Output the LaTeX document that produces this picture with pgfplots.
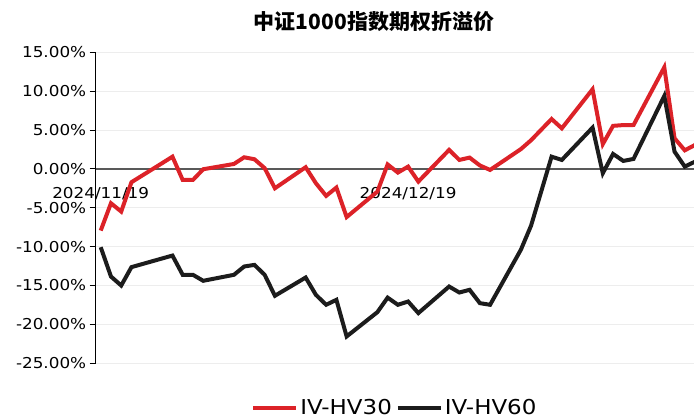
\documentclass[border=0pt]{standalone}
\usepackage{fontspec}
\setmainfont{DejaVu Sans}[FakeStretch=1.12]
\newfontfamily\cjk{Noto Sans CJK SC}
\usepackage{pgfplots}
\usepackage{pgfplotstable}
\pgfplotsset{compat=1.18}
\definecolor{redl}{HTML}{DC2228}
\definecolor{blackl}{HTML}{1C1C1C}

\pgfplotstableread{
d r b
0 -7.94 -10.08
1 -4.42 -13.86
2 -5.49 -15.02
3 -1.71 -12.65
6 0.75 -11.53
7 1.58 -11.16
8 -1.42 -13.64
9 -1.42 -13.64
10 -0.04 -14.41
13 0.64 -13.64
14 1.50 -12.57
15 1.25 -12.36
16 0.10 -13.64
17 -2.49 -16.34
20 0.22 -13.99
21 -1.84 -16.22
22 -3.47 -17.50
23 -2.40 -16.86
24 -6.20 -21.58
27 -2.92 -18.45
28 0.58 -16.58
29 -0.47 -17.50
30 0.30 -17.08
31 -1.63 -18.57
34 2.45 -15.15
35 1.16 -15.92
36 1.46 -15.57
37 0.45 -17.29
38 -0.13 -17.50
41 2.55 -10.42
42 3.70 -7.30
44 6.43 1.58
45 5.23 1.16
48 10.26 5.32
49 3.20 -0.55
50 5.55 1.93
51 5.65 1.03
52 5.66 1.29
55 13.09 9.40
56 3.95 2.23
57 2.40 0.30
58 3.09 0.94
}\data

\begin{document}
\begin{tikzpicture}
\useasboundingbox (0bp,0bp) rectangle (694bp,419bp);
\node[font=\cjk\bfseries\fontsize{21bp}{24bp}\selectfont] at (374bp,397bp) {中证1000指数期权折溢价};
\begin{axis}[
  at={(95.7bp,56bp)}, anchor=south west,
  scale only axis, width=598.3bp, height=310.5bp,
  xmin=-0.49, xmax=57.9, ymin=-25, ymax=15,
  axis x line*=middle, axis y line*=left,
  hide obscured x ticks=false, hide obscured y ticks=false,
  x axis line style={black!65, line width=1.5bp},
  y axis line style={black, line width=1.2bp},
  xtick={0,30}, xticklabels={2024/11/19,2024/12/19},
  x tick style={draw=none},
  x tick label style={font=\fontsize{15bp}{18bp}\selectfont, anchor=center, yshift=-19bp},
  ytick={-25,-20,-15,-10,-5,0,5,10,15},
  yticklabels={-25.00\%,-20.00\%,-15.00\%,-10.00\%,-5.00\%,0.00\%,5.00\%,10.00\%,15.00\%},
  y tick label style={font=\fontsize{15bp}{18bp}\selectfont},
  y tick style={black, line width=1bp},
  tick align=outside, major tick length=6bp,
  ymajorgrids, major grid style={black!7, line width=1bp},
  legend style={at={(0.5,-0.145)}, anchor=center, draw=none, fill=none,
    font=\fontsize{20.5bp}{24bp}\selectfont,
    /tikz/every even column/.append style={column sep=2bp}},
  legend columns=2,
  legend image code/.code={\draw[#1] (0bp,0bp) -- (43bp,0bp);},
]
\addplot[redl, line width=4bp] table[x=d,y=r] {\data};
\addlegendentry{IV-HV30}
\addplot[blackl, line width=4bp] table[x=d,y=b] {\data};
\addlegendentry{IV-HV60}
\end{axis}
\end{tikzpicture}
\end{document}
